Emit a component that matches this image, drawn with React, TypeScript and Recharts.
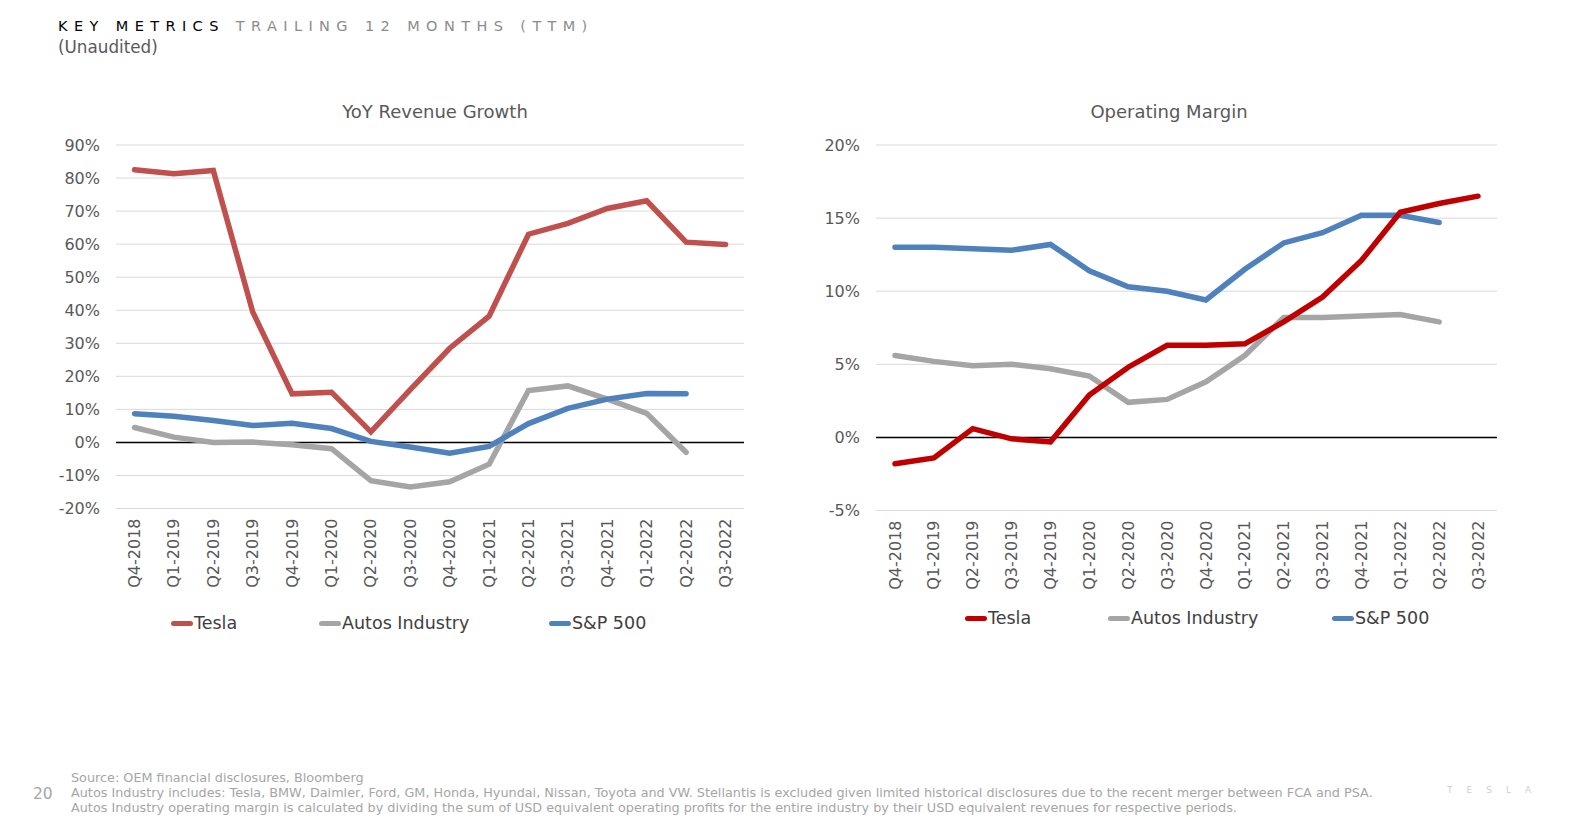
import { Line, LineChart, XAxis, YAxis, CartesianGrid, ReferenceLine } from 'recharts';

// quarters on the x axis
const quarters = [
  'Q4-2018', 'Q1-2019', 'Q2-2019', 'Q3-2019', 'Q4-2019', 'Q1-2020', 'Q2-2020', 'Q3-2020',
  'Q4-2020', 'Q1-2021', 'Q2-2021', 'Q3-2021', 'Q4-2021', 'Q1-2022', 'Q2-2022', 'Q3-2022',
];

// YoY revenue growth, %
const revTesla = [82.5, 81.3, 82.3, 39.5, 14.7, 15.2, 3.2, 16, 28.5, 38.2, 63, 66.3, 70.8, 73.1, 60.6, 59.9];
const revAutos = [4.5, 1.6, 0, 0.1, -0.7, -1.9, -11.6, -13.5, -11.9, -6.6, 15.7, 17.1, 13.1, 8.8, -3, null];
const revSp = [8.7, 7.9, 6.6, 5.1, 5.8, 4.2, 0.3, -1.4, -3.3, -1.2, 5.7, 10.3, 13.1, 14.8, 14.7, null];

// operating margin, %
const marginTesla = [-1.8, -1.4, 0.6, -0.1, -0.3, 2.9, 4.8, 6.3, 6.3, 6.4, 7.9, 9.6, 12.1, 15.4, 16, 16.5];
const marginAutos = [5.6, 5.2, 4.9, 5, 4.7, 4.2, 2.4, 2.6, 3.8, 5.6, 8.2, 8.2, 8.3, 8.4, 7.9, null];
const marginSp = [13, 13, 12.9, 12.8, 13.2, 11.4, 10.3, 10, 9.4, 11.5, 13.3, 14, 15.2, 15.2, 14.7, null];

const revTicks = [-20, -10, 0, 10, 20, 30, 40, 50, 60, 70, 80, 90];
const marginTicks = [-5, 0, 5, 10, 15, 20];

const revData = quarters.map((q, i) => ({ q, tesla: revTesla[i], autos: revAutos[i], sp: revSp[i] }));
const marginData = quarters.map((q, i) => ({ q, tesla: marginTesla[i], autos: marginAutos[i], sp: marginSp[i] }));

const FONT = '"DejaVu Sans", sans-serif';
const GRAY_TEXT = '#595959';

const QuarterTick = ({ x, y, payload }: any) => (
  <text
    x={x}
    y={y + 2}
    transform={`rotate(-90, ${x}, ${y + 2})`}
    textAnchor="end"
    dy="0.35em"
    fill={GRAY_TEXT}
    fontSize={16}
    fontFamily={FONT}
  >
    {payload.value}
  </text>
);

const LegendRow = ({ items, top }: { items: { label: string; color: string; x: number }[]; top: number }) => (
  <div style={{ position: 'absolute', left: 0, top, height: 20 }}>
    {items.map((it) => (
      <div key={it.label} style={{ position: 'absolute', left: it.x, top: 0, display: 'flex', alignItems: 'center', whiteSpace: 'nowrap' }}>
        <span style={{ display: 'inline-block', width: 22, height: 5, borderRadius: 3, background: it.color }} />
        <span style={{ fontSize: 17.5, color: '#404040', fontFamily: FONT, marginLeft: 1 }}>{it.label}</span>
      </div>
    ))}
  </div>
);

const App = () => {
  const lineProps = { type: 'linear' as const, strokeWidth: 5.5, dot: false, isAnimationActive: false, strokeLinecap: 'round' as const };

  return (
    <div style={{ position: 'absolute', left: 0, top: 0, width: 1579, height: 825, background: '#fff', fontFamily: FONT, overflow: 'hidden' }}>
      <div style={{ position: 'absolute', left: 58, top: 18, fontSize: 14.5, letterSpacing: 6.4, whiteSpace: 'nowrap' }}>
        <span style={{ color: '#000' }}>KEY METRICS </span>
        <span style={{ color: '#8c8c8c' }}>TRAILING 12 MONTHS (TTM)</span>
      </div>
      <div style={{ position: 'absolute', left: 58, top: 37, fontSize: 16.8, color: GRAY_TEXT }}>(Unaudited)</div>

      <div style={{ position: 'absolute', left: 116, width: 638, top: 101, textAlign: 'center', fontSize: 18, color: GRAY_TEXT }}>
        YoY Revenue Growth
      </div>
      <div style={{ position: 'absolute', left: 0, top: 0 }}>
        <LineChart width={764} height={603.5} data={revData} margin={{ top: 145, right: 20, left: 0, bottom: 5 }}>
          <CartesianGrid vertical={false} stroke="#d9d9d9" strokeWidth={1} />
          <XAxis
            dataKey="q"
            interval={0}
            height={90}
            padding={{ left: 18.5, right: 18.5 }}
            axisLine={false}
            tickLine={false}
            tick={<QuarterTick />}
          />
          <YAxis
            width={116}
            domain={[-20, 90]}
            ticks={revTicks}
            axisLine={false}
            tickLine={false}
            tickMargin={10}
            tickFormatter={(v) => `${v}%`}
            tick={{ fill: GRAY_TEXT, fontSize: 16, fontFamily: FONT }}
          />
          <ReferenceLine y={0} stroke="#000" strokeWidth={1.5} />
          <Line {...lineProps} dataKey="autos" stroke="#a5a5a5" />
          <Line {...lineProps} dataKey="sp" stroke="#4f81bd" />
          <Line {...lineProps} dataKey="tesla" stroke="#c0504d" />
        </LineChart>
      </div>
      <LegendRow
        top={613}
        items={[
          { label: 'Tesla', color: '#c0504d', x: 171 },
          { label: 'Autos Industry', color: '#a5a5a5', x: 319 },
          { label: 'S&P 500', color: '#4f81bd', x: 549 },
        ]}
      />

      <div style={{ position: 'absolute', left: 876, width: 586, top: 101, textAlign: 'center', fontSize: 18, color: GRAY_TEXT }}>
        Operating Margin
      </div>
      <div style={{ position: 'absolute', left: 760, top: 0 }}>
        <LineChart width={760} height={605.5} data={marginData} margin={{ top: 145, right: 23, left: 0, bottom: 5 }}>
          <CartesianGrid vertical={false} stroke="#d9d9d9" strokeWidth={1} />
          <XAxis
            dataKey="q"
            interval={0}
            height={90}
            padding={{ left: 19, right: 19 }}
            axisLine={false}
            tickLine={false}
            tick={<QuarterTick />}
          />
          <YAxis
            width={116}
            domain={[-5, 20]}
            ticks={marginTicks}
            axisLine={false}
            tickLine={false}
            tickMargin={10}
            tickFormatter={(v) => `${v}%`}
            tick={{ fill: GRAY_TEXT, fontSize: 16, fontFamily: FONT }}
          />
          <ReferenceLine y={0} stroke="#000" strokeWidth={1.5} />
          <Line {...lineProps} dataKey="autos" stroke="#a5a5a5" />
          <Line {...lineProps} dataKey="sp" stroke="#4f81bd" />
          <Line {...lineProps} dataKey="tesla" stroke="#c00000" />
        </LineChart>
      </div>
      <LegendRow
        top={608}
        items={[
          { label: 'Tesla', color: '#c00000', x: 965 },
          { label: 'Autos Industry', color: '#a5a5a5', x: 1108 },
          { label: 'S&P 500', color: '#4f81bd', x: 1332 },
        ]}
      />

      <div style={{ position: 'absolute', left: 33, top: 785, fontSize: 15.5, color: '#a6a6a6' }}>20</div>
      <div style={{ position: 'absolute', left: 71, top: 770, fontSize: 12.8, lineHeight: '15px', color: '#a6a6a6', whiteSpace: 'nowrap' }}>
        <div>Source: OEM financial disclosures, Bloomberg</div>
        <div>Autos Industry includes: Tesla, BMW, Daimler, Ford, GM, Honda, Hyundai, Nissan, Toyota and VW. Stellantis is excluded given limited historical disclosures due to the recent merger between FCA and PSA.</div>
        <div>Autos Industry operating margin is calculated by dividing the sum of USD equivalent operating profits for the entire industry by their USD equivalent revenues for respective periods.</div>
      </div>
      <div style={{ position: 'absolute', left: 1447, top: 785, fontSize: 9, letterSpacing: 14, color: '#cfcfcf' }}>TESLA</div>
    </div>
  );
};

export default App;
